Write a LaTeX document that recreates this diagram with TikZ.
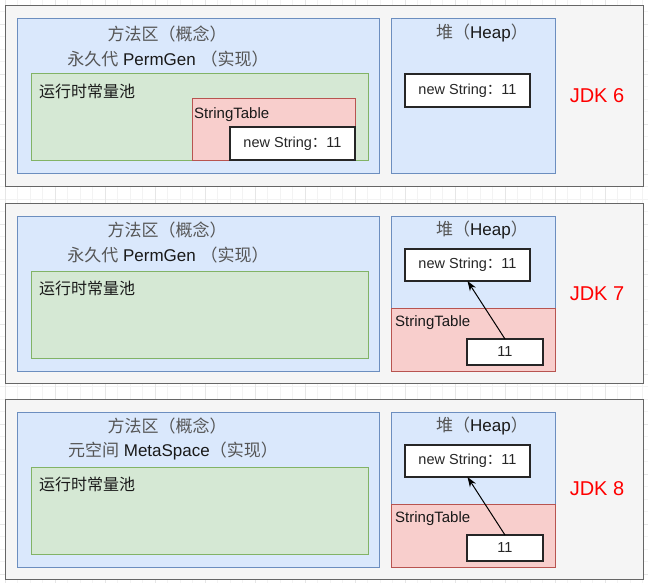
\documentclass[tikz,border=0pt]{standalone}
\usepackage{fontspec}
\setmainfont{Liberation Sans}
\newfontfamily\cjk{Noto Sans CJK SC}
\usetikzlibrary{arrows.meta}
\definecolor{bluefill}{HTML}{DAE8FC}
\definecolor{bluedraw}{HTML}{6C8EBF}
\definecolor{greenfill}{HTML}{D5E8D4}
\definecolor{greendraw}{HTML}{82B366}
\definecolor{redfill}{HTML}{F8CECC}
\definecolor{reddraw}{HTML}{B85450}
\definecolor{panelfill}{HTML}{F5F5F5}
\definecolor{paneldraw}{HTML}{666666}
\definecolor{gridminor}{HTML}{F3F3F3}
\definecolor{gridmajor}{HTML}{E6E6E6}
\definecolor{headgray}{HTML}{555555}
\newcommand{\hcjk}[1]{{\cjk\color{headgray}#1}}
\tikzset{
  box/.style={anchor=north west, inner sep=0pt, outer sep=0pt, line width=1pt},
  panel/.style={box, draw=paneldraw, fill=panelfill},
  area/.style={box, draw=bluedraw, fill=bluefill},
  pool/.style={box, draw=greendraw, fill=greenfill},
  table/.style={box, draw=reddraw, fill=redfill},
  obj/.style={box, draw=black!85, fill=white, line width=1.2pt, font=\fontsize{14.5}{17}\selectfont, text=black!85},
  head/.style={inner sep=0pt, font=\fontsize{17}{20}\selectfont, text=black!90},
  lbl/.style={anchor=west, inner sep=0pt, font=\fontsize{15}{18}\selectfont, text=black!90},
  jdk/.style={inner sep=0pt, font=\fontsize{20}{24}\selectfont, text=red},
  arr/.style={-{Stealth[length=10pt,width=7pt]}, line width=1pt, black}
}
\begin{document}
\begin{tikzpicture}[x=1pt,y=-1pt]
\useasboundingbox (0,0) rectangle (648,583);
\fill[white] (0,0) rectangle (648,583);
\foreach \gx in {5,17.5,...,648} \draw[gridminor, line width=0.8pt] (\gx,0) -- (\gx,583);
\foreach \gy in {-1,11.5,...,583} \draw[gridminor, line width=0.8pt] (0,\gy) -- (648,\gy);
\foreach \gx in {5,55,...,648} \draw[gridmajor, line width=0.8pt] (\gx,0) -- (\gx,583);
\foreach \gy in {24,74,...,583} \draw[gridmajor, line width=0.8pt] (0,\gy) -- (648,\gy);

% ---------------- JDK 6 ----------------
\node[panel, minimum width=638pt, minimum height=180pt] (p1) at (5,6) {};
\node[area, minimum width=362pt, minimum height=155pt] (p1m) at (17,19) {};
\node[head] (p1t1) at (167,34) {\hcjk{方法区（概念）}};
\node[head] (p1t2) at (168,59) {\hcjk{永久代} PermGen \hcjk{（实现）}};
\node[pool, minimum width=337pt, minimum height=87pt] (p1pool) at (31,74) {};
\node[lbl, font=\fontsize{16}{19}\selectfont\cjk] (p1pl) at (39,91) {运行时常量池};
\node[table, minimum width=163pt, minimum height=62pt] (p1st) at (192,99) {};
\node[lbl] (p1stl) at (194,115) {StringTable};
\node[obj, minimum width=125pt, minimum height=33pt] (p1ns) at (230,127) {new String{\cjk ：}11};
\node[area, minimum width=164pt, minimum height=155pt] (p1h) at (391,19) {};
\node[head] (p1ht) at (482,33) {\hcjk{堆（}Heap\hcjk{）}};
\node[obj, minimum width=125pt, minimum height=33pt] (p1hns) at (405,74) {new String{\cjk ：}11};
\node[jdk] (p1j) at (597,96) {JDK 6};

% ---------------- JDK 7 ----------------
\node[panel, minimum width=638pt, minimum height=180pt] (p2) at (5,203) {};
\node[area, minimum width=362pt, minimum height=155pt] (p2m) at (17,216) {};
\node[head] (p2t1) at (167,230) {\hcjk{方法区（概念）}};
\node[head] (p2t2) at (168,255) {\hcjk{永久代} PermGen \hcjk{（实现）}};
\node[pool, minimum width=337pt, minimum height=87pt] (p2pool) at (31,271) {};
\node[lbl, font=\fontsize{16}{19}\selectfont\cjk] (p2pl) at (39,288) {运行时常量池};
\node[area, minimum width=164pt, minimum height=155pt] (p2h) at (391,216) {};
\node[table, minimum width=164pt, minimum height=63pt] (p2st) at (391,308) {};
\node[head] (p2ht) at (482,230) {\hcjk{堆（}Heap\hcjk{）}};
\node[obj, minimum width=125pt, minimum height=32pt] (p2hns) at (405,249) {new String{\cjk ：}11};
\node[lbl] (p2stl) at (395,323) {StringTable};
\node[obj, minimum width=76pt, minimum height=26pt] (p2e) at (467,339) {11};
\draw[arr] (p2e.north) -- (p2hns.south);
\node[jdk] (p2j) at (597,294) {JDK 7};

% ---------------- JDK 8 ----------------
\node[panel, minimum width=638pt, minimum height=180pt] (p3) at (5,399) {};
\node[area, minimum width=362pt, minimum height=155pt] (p3m) at (17,412) {};
\node[head] (p3t1) at (167,426) {\hcjk{方法区（概念）}};
\node[head] (p3t2) at (173,451) {\hcjk{元空间} MetaSpace\hcjk{（实现）}};
\node[pool, minimum width=337pt, minimum height=87pt] (p3pool) at (31,467) {};
\node[lbl, font=\fontsize{16}{19}\selectfont\cjk] (p3pl) at (39,484) {运行时常量池};
\node[area, minimum width=164pt, minimum height=155pt] (p3h) at (391,412) {};
\node[table, minimum width=164pt, minimum height=63pt] (p3st) at (391,504) {};
\node[head] (p3ht) at (482,426) {\hcjk{堆（}Heap\hcjk{）}};
\node[obj, minimum width=125pt, minimum height=32pt] (p3hns) at (405,445) {new String{\cjk ：}11};
\node[lbl] (p3stl) at (395,519) {StringTable};
\node[obj, minimum width=76pt, minimum height=26pt] (p3e) at (467,535) {11};
\draw[arr] (p3e.north) -- (p3hns.south);
\node[jdk] (p3j) at (597,489) {JDK 8};
\end{tikzpicture}
\end{document}
